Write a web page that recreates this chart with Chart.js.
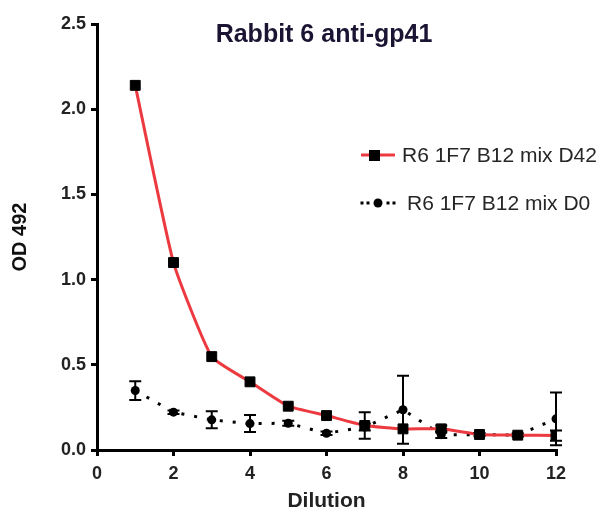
<!DOCTYPE html>
<html>
<head>
<meta charset="utf-8">
<script src="https://cdn.jsdelivr.net/npm/chart.js@4.4.1/dist/chart.umd.min.js"></script>
<style>
  html, body { margin: 0; padding: 0; background: #fff; }
  #wrap { width: 606px; height: 512px; }
</style>
</head>
<body>
<div id="wrap"><canvas id="chart"></canvas></div>
<script>
// values (OD 492 per dilution step)
const chartTitle = 'Rabbit 6 anti-gp41'
const seriesLabels = ['R6 1F7 B12 mix D42', 'R6 1F7 B12 mix D0']
const dilutions = [1, 2, 3, 4, 5, 6, 7, 8, 9, 10, 11, 12]
const d42Values = [2.14, 1.10, 0.548, 0.40, 0.257, 0.202, 0.144, 0.124, 0.124, 0.091, 0.087, 0.085]
const d42Errors = [0, 0, 0, 0, 0, 0, 0.078, 0, 0.02, 0, 0, 0.03]
const d0Values = [0.349, 0.222, 0.177, 0.155, 0.157, 0.098, 0.135, 0.236, 0.090, 0.090, 0.088, 0.183]
const d0Errors = [0.055, 0.01, 0.05, 0.05, 0.015, 0.01, 0.02, 0.20, 0.02, 0.01, 0.01, 0.155]
const xTicks = [0, 2, 4, 6, 8, 10, 12]
const yTicks = [0, 0.5, 1.0, 1.5, 2.0, 2.5]

const FONT = '"Liberation Sans", Arial, sans-serif'
const RED = '#ec3a40'

const toPoints = (vals) => vals.map((v, i) => ({ x: dilutions[i], y: v }))

// 误差棒 + 标题 + 图例
const decorations = {
  id: 'decorations',
  afterDatasetsDraw(chart) {
    const { ctx, scales: { x, y } } = chart
    ctx.save()
    ctx.strokeStyle = '#000'
    ctx.lineWidth = 2
    chart.data.datasets.forEach(ds => {
      ds.errors.forEach((e, j) => {
        if (!e) return
        const px = x.getPixelForValue(ds.data[j].x)
        const top = y.getPixelForValue(ds.data[j].y + e)
        const bot = y.getPixelForValue(Math.max(ds.data[j].y - e, 0))
        ctx.beginPath()
        ctx.moveTo(px, top); ctx.lineTo(px, bot)
        ctx.moveTo(px - 6, top); ctx.lineTo(px + 6, top)
        ctx.moveTo(px - 6, bot); ctx.lineTo(px + 6, bot)
        ctx.stroke()
      })
    })
    ctx.restore()
  },
  afterDraw(chart) {
    const { ctx } = chart
    ctx.save()
    ctx.fillStyle = '#1c1433'
    ctx.font = 'bold 25px ' + FONT
    ctx.textAlign = 'center'
    ctx.textBaseline = 'middle'
    ctx.fillText(chartTitle, 324, 35)

    // legend
    const rows = [155, 203]
    ctx.textAlign = 'left'
    ctx.font = '21px ' + FONT
    // D42 row
    ctx.strokeStyle = RED
    ctx.lineWidth = 3
    ctx.beginPath(); ctx.moveTo(361, rows[0]); ctx.lineTo(395, rows[0]); ctx.stroke()
    ctx.fillStyle = '#000'
    ctx.fillRect(369, rows[0] - 5, 11, 11)
    ctx.fillStyle = '#262626'
    ctx.fillText(seriesLabels[0], 402, rows[0] + 1)
    // D0 row
    ctx.fillStyle = '#000'
    ;[362, 368, 388, 394].forEach(px => ctx.fillRect(px - 1.5, rows[1] - 1.5, 3, 3))
    ctx.beginPath(); ctx.arc(378, rows[1], 4.5, 0, Math.PI * 2); ctx.fill()
    ctx.fillStyle = '#262626'
    ctx.fillText(seriesLabels[1], 407, rows[1] + 1)
    ctx.restore()
  }
}

new Chart(document.getElementById('chart'), {
  type: 'line',
  data: {
    datasets: [
      {
        label: seriesLabels[0],
        data: toPoints(d42Values),
        errors: d42Errors,
        borderColor: RED,
        borderWidth: 3,
        tension: 0.15,
        pointStyle: 'rect',
        pointRadius: 7,
        pointBackgroundColor: '#000',
        pointBorderColor: '#000',
        pointBorderWidth: 1
      },
      {
        label: seriesLabels[1],
        data: toPoints(d0Values),
        errors: d0Errors,
        borderColor: '#000',
        borderWidth: 3,
        borderDash: [3, 10],
        tension: 0,
        pointStyle: 'circle',
        pointRadius: 4.5,
        pointBackgroundColor: '#000',
        pointBorderColor: '#000',
        pointBorderWidth: 0
      }
    ]
  },
  options: {
    responsive: true,
    maintainAspectRatio: false,
    animation: false,
    layout: { padding: { top: 24, right: 50, left: 0, bottom: 0 } },
    plugins: {
      legend: { display: false },
      title: { display: false },
      tooltip: { enabled: false }
    },
    scales: {
      x: {
        type: 'linear',
        min: 0,
        max: 12,
        afterBuildTicks: (s) => { s.ticks = xTicks.map(v => ({ value: v })) },
        afterFit: (s) => { s.height = 62 },
        grid: { display: true, drawOnChartArea: false, drawTicks: true, tickLength: 6, color: '#000', lineWidth: 3 },
        border: { display: true, color: '#000', width: 3 },
        ticks: { color: '#222', padding: 7, font: { family: FONT, size: 18, weight: 'bold' } },
        title: {
          display: true,
          text: 'Dilution',
          color: '#222',
          padding: { top: 0, bottom: 0 },
          font: { family: FONT, size: 21, weight: 'bold', lineHeight: 1 }
        }
      },
      y: {
        min: 0,
        max: 2.5,
        afterBuildTicks: (s) => { s.ticks = yTicks.map(v => ({ value: v })) },
        afterFit: (s) => { s.width = 97 },
        grid: { display: true, drawOnChartArea: false, drawTicks: true, tickLength: 6, color: '#000', lineWidth: 3 },
        border: { display: true, color: '#000', width: 3 },
        ticks: {
          color: '#222',
          padding: 5,
          font: { family: FONT, size: 18, weight: 'bold' },
          callback: (v) => v.toFixed(1)
        },
        title: {
          display: true,
          text: 'OD 492',
          color: '#111',
          padding: { top: 8, bottom: 0 },
          font: { family: FONT, size: 20, weight: 'bold' }
        }
      }
    }
  },
  plugins: [decorations]
})
</script>
</body>
</html>
